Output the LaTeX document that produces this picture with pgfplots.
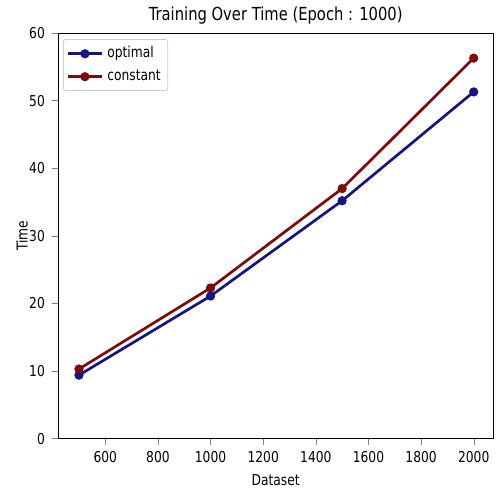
\documentclass[border=0pt]{standalone}
\usepackage{pgfplots}
\pgfplotsset{compat=1.18}
\usepackage{fontspec}
\setmainfont{DejaVu Sans}[FakeStretch=0.82]
\definecolor{optblue}{RGB}{20,20,130}
\definecolor{constred}{RGB}{128,10,10}
\begin{document}
\begin{tikzpicture}
\begin{axis}[
    scale only axis,
    width=218pt, height=203pt,
    xmin=420, xmax=2075,
    ymin=0, ymax=60,
    xtick={600,800,...,2000},
    ytick={0,10,...,60},
    tick align=outside,
    tick pos=left,
    major tick length=3pt,
    /pgf/number format/assume math mode=true,
    /pgf/number format/1000 sep={},
    ticklabel style={font=\fontsize{7.5}{9}\selectfont},
    title={Training Over Time (Epoch : 1000)},
    title style={font=\fontsize{9}{10}\selectfont, yshift=-5pt},
    xlabel={Dataset},
    ylabel={Time},
    label style={font=\fontsize{7.5}{8}\selectfont},
    xlabel style={yshift=1pt},
    ylabel style={at={(axis description cs:0,0.5)}, anchor=center, yshift=18pt},
    legend style={at={(0.012,0.985)}, anchor=north west, font=\fontsize{7.5}{9}\selectfont, draw=black!20, rounded corners=1pt, inner sep=1.5pt, row sep=0.5pt},
    legend cell align=left,
    every axis plot/.append style={line width=1.35pt, mark=*, mark size=1.6pt},
]
\addplot[color=optblue, mark options={fill=optblue}] coordinates {
    (500,9.4) (1000,21.1) (1500,35.2) (2000,51.3)
};
\addlegendentry{optimal}
\addplot[color=constred, mark options={fill=constred}] coordinates {
    (500,10.3) (1000,22.3) (1500,37.0) (2000,56.3)
};
\addlegendentry{constant}
\end{axis}
\path ([xshift=-29pt,yshift=-24pt]current axis.south west);
\end{tikzpicture}
\end{document}
